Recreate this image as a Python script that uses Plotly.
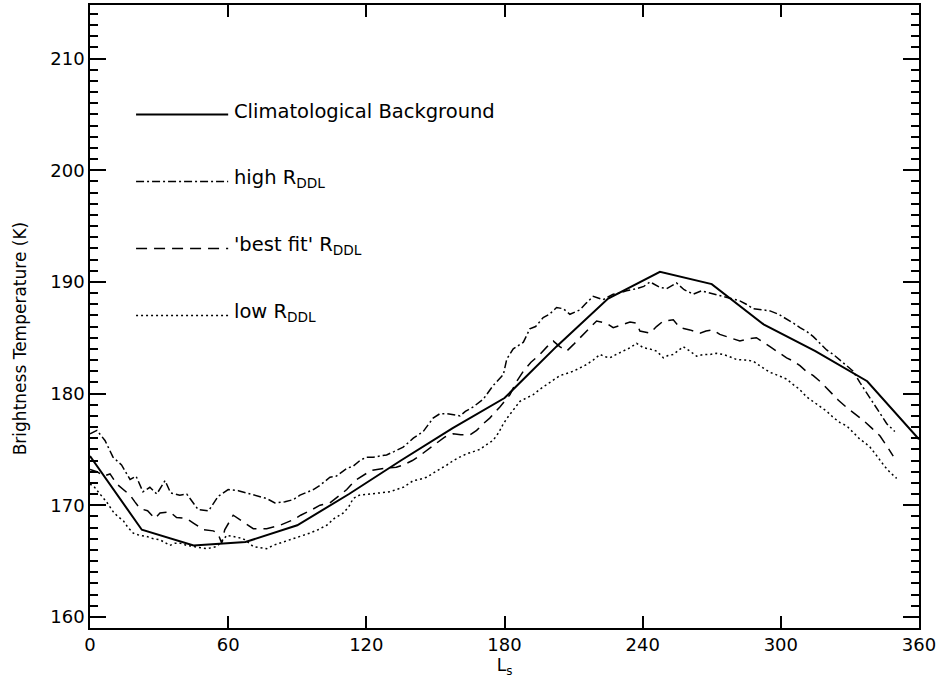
import plotly.graph_objects as go

# ---------------- data ----------------
clim_ls = [0, 22.5, 45, 67.5, 90, 112.5, 135, 157.5, 180, 202.5, 225, 247.5, 270, 292.5, 315, 337.5, 360]
clim_tb = [174.4, 167.8, 166.4, 166.7, 168.2, 171.0, 174.0, 176.9, 179.6, 184.2, 188.5, 190.9, 189.8, 186.2, 183.8, 181.1, 175.9]

high_ls = [0, 3, 6.5, 10, 13.7, 17.4, 20, 23, 26, 29, 32.6, 35, 39, 42, 47, 51.5, 55.7, 60, 64.4, 69.5,
           73, 76.7, 80.3, 84.7, 88.3, 91.2, 97, 100, 104.2, 107, 111.5, 114.3, 117.2, 120, 123, 126, 128.8,
           132, 136, 140.4, 144.7, 149, 152, 154.9, 157.5, 160.7, 163, 166.4, 170.8, 175, 179.5, 181, 183.8,
           188.2, 191, 193.5, 196.8, 199.5, 202.6, 205.5, 208.4, 210.5, 212.8, 215.5, 218.5, 222.8, 227.2,
           230, 233, 237.4, 240.5, 243.2, 247.5, 250.4, 254.7, 258, 262, 265.5, 269.2, 272.5, 276.5, 282.2,
           285, 288, 292, 295.3, 299, 302.5, 305.5, 308.3, 311, 314.1, 317, 319.9, 322.8, 325.7, 328.5,
           331.4, 334.3, 337.2, 340, 343, 346, 349.5]
high_tb = [176.4, 176.7, 175.8, 174.3, 173.6, 172.3, 172.6, 171.2, 171.6, 171.0, 172.2, 171.1, 170.9, 171.0,
           169.6, 169.5, 170.8, 171.4, 171.3, 171.0, 170.8, 170.6, 170.2, 170.3, 170.5, 170.9, 171.4, 171.8,
           172.5, 172.6, 173.3, 173.5, 174.0, 174.3, 174.3, 174.4, 174.5, 174.8, 175.2, 176.0, 176.6, 177.8,
           178.2, 178.2, 178.1, 178.0, 178.4, 178.8, 179.5, 180.7, 181.7, 183.1, 184.0, 184.6, 185.8, 186.0,
           186.8, 187.1, 187.7, 187.6, 187.1, 187.3, 187.5, 188.1, 188.7, 188.4, 188.9, 189.0, 189.2, 189.4,
           189.6, 190.0, 189.5, 189.4, 189.9, 189.3, 188.9, 189.2, 189.0, 188.8, 188.6, 188.3, 188.0, 187.6,
           187.5, 187.4, 187.1, 186.7, 186.3, 185.9, 185.6, 185.1, 184.5, 183.9, 183.5, 183.0, 182.5, 182.0,
           181.0, 180.1, 179.2, 178.3, 177.3, 176.6]

best_ls = [0, 3, 6, 8.7, 11.6, 14.5, 17.4, 19.5, 21.7, 25, 28.2, 30.4, 34.7, 37.6, 42, 44.9, 49.2, 53.5, 55.5,
           57.2, 58.5, 62.2, 66.6, 70.9, 76.7, 82.5, 88.3, 91.5, 95.5, 99.9, 104.2, 108, 111.5, 115, 118.7,
           122, 126, 130.3, 133, 136, 140, 143.3, 147, 150.5, 154, 157.7, 161, 165, 167.9, 170.8, 173.6, 178,
           182.4, 185, 188.2, 191.5, 195.4, 198.5, 201.2, 204, 207, 210, 212.8, 216, 220, 224.3, 227.2, 231.5,
           234.5, 237.4, 238.8, 243.2, 246, 249, 253.3, 256.2, 260.5, 264.9, 267.5, 270.6, 273.5, 276.5, 282.2,
           286, 289.4, 295.3, 299, 302.5, 305.5, 308.3, 311, 314.1, 317.5, 321.3, 325, 328.6, 332, 335.8,
           339.5, 343.1, 346, 348.8]
best_tb = [173.2, 173.0, 172.6, 172.8, 171.9, 171.4, 170.9, 170.3, 169.7, 169.5, 168.8, 169.3, 169.4, 168.9,
           168.8, 168.4, 167.8, 167.7, 167.5, 166.6, 167.8, 169.1, 168.5, 167.9, 167.9, 168.2, 168.7, 169.1,
           169.5, 170.0, 170.2, 170.8, 171.4, 172.2, 172.7, 173.1, 173.25, 173.35, 173.4, 173.6, 174.0, 174.45,
           175.0, 175.6, 176.1, 176.4, 176.3, 176.3, 176.7, 177.3, 177.8, 178.8, 179.9, 181.0, 182.0, 182.8,
           183.5, 184.2, 184.7, 184.2, 183.8, 184.4, 185.0, 185.7, 186.5, 186.3, 185.9, 186.2, 186.4, 186.3,
           185.6, 185.4, 186.0, 186.5, 186.6, 185.9, 185.7, 185.4, 185.6, 185.7, 185.3, 185.1, 184.7, 184.9,
           185.0, 184.2, 183.7, 183.2, 182.9, 182.5, 182.0, 181.6, 181.0, 180.2, 179.4, 178.75, 178.2, 177.6,
           176.9, 176.2, 175.3, 174.4]

low_ls = [0, 2, 4.3, 7.2, 10.1, 12, 14.5, 16.5, 18.8, 21.5, 24.6, 27.5, 30.4, 34.7, 37, 39.1, 42, 44.9, 47.8,
          50.7, 53, 55, 57.5, 59.4, 62.2, 66.5, 68.5, 70.9, 73.5, 76.7, 79.5, 82.5, 85.5, 88.3, 92, 95.5, 99,
          102.8, 106, 110, 112.5, 114.3, 117, 121.6, 126, 130.3, 133, 136, 140.4, 143, 146.2, 149, 152, 155,
          157.8, 160.5, 163.6, 166.5, 169.3, 172, 175, 177.5, 179.5, 181.5, 183.8, 186.7, 189.5, 192.5, 195.5,
          198.3, 201, 204, 207, 209.9, 212.8, 215.7, 218.5, 221.5, 223.5, 225.8, 228.5, 231.6, 234.5, 237.4,
          240.3, 243, 246.1, 249, 251, 253.3, 255.5, 257.6, 260.5, 263.4, 266.5, 269.2, 272, 275, 277.8, 280.8,
          284.5, 288, 291.5, 295.3, 299, 302.5, 305.4, 308, 311.2, 314, 317, 320, 322.8, 325.7, 328.6, 331.5,
          334.4, 336.5, 338.7, 341, 343, 345, 347.4, 350.3]
low_tb = [171.9, 171.6, 171.0, 170.3, 169.4, 169.0, 168.6, 168.0, 167.5, 167.3, 167.2, 167.0, 166.9, 166.4,
          166.6, 166.6, 166.4, 166.3, 166.2, 166.1, 166.2, 166.3, 166.8, 167.3, 167.2, 167.0, 166.7, 166.3,
          166.2, 166.1, 166.4, 166.6, 166.8, 167.0, 167.2, 167.5, 167.8, 168.2, 168.8, 169.3, 169.9, 170.6,
          170.9, 171.0, 171.1, 171.2, 171.4, 171.6, 172.2, 172.3, 172.5, 172.9, 173.25, 173.6, 174.0, 174.3,
          174.6, 174.8, 175.0, 175.4, 175.8, 176.5, 177.3, 177.9, 178.5, 179.3, 179.6, 179.9, 180.4, 180.8,
          181.2, 181.6, 181.8, 182.0, 182.3, 182.6, 183.0, 183.5, 183.3, 183.2, 183.5, 183.8, 184.1, 184.5,
          184.1, 184.0, 183.8, 183.2, 183.4, 183.5, 183.9, 184.2, 183.8, 183.35, 183.5, 183.5, 183.6, 183.5,
          183.3, 183.05, 183.0, 182.9, 182.4, 181.9, 181.6, 181.3, 180.8, 180.4, 179.7, 179.3, 178.9, 178.4,
          177.85, 177.4, 177.1, 176.5, 175.9, 175.6, 175.2, 174.6, 174.0, 173.5, 172.95, 172.4]

legend_labels = ["Climatological Background", "high R<sub>DDL</sub>",
                 "'best fit' R<sub>DDL</sub>", "low R<sub>DDL</sub>"]
legend_y = [205, 199, 193, 187]

Y_RANGE = [159, 214.8]
X_RANGE = [0, 360]

# ---------------- styles ----------------
FONT = "DejaVu Sans"
styles = [
    dict(color="black", width=2, dash="solid"),
    dict(color="black", width=1.5, dash="8px,3px,2px,3px"),
    dict(color="black", width=1.5, dash="11px,7px"),
    dict(color="black", width=1.5, dash="2px,3px"),
]

fig = go.Figure()
series = [(clim_ls, clim_tb), (high_ls, high_tb), (best_ls, best_tb), (low_ls, low_tb)]
for (xs, ys), st, name in zip(series, styles, legend_labels):
    fig.add_trace(go.Scatter(x=xs, y=ys, mode="lines", line=st, name=name,
                             showlegend=False, hoverinfo="skip"))

shapes = []
annotations = []
for st, name, ly in zip(styles, legend_labels, legend_y):
    shapes.append(dict(type="line", xref="x", yref="y", x0=20, x1=60, y0=ly, y1=ly,
                       line=st))
    annotations.append(dict(x=61.5, y=ly + 0.25, xref="x", yref="y", text=name,
                            showarrow=False, xanchor="left", yanchor="middle",
                            font=dict(family=FONT, size=19.5, color="black")))

annotations.append(dict(x=-0.084, y=0.464, xref="paper", yref="paper",
                        text="Brightness Temperature (K)", textangle=-90,
                        showarrow=False, xanchor="center", yanchor="middle",
                        font=dict(family=FONT, size=17, color="black")))

fig.update_layout(
    width=945, height=692,
    margin=dict(l=90, r=26, t=3, b=64),
    paper_bgcolor="white", plot_bgcolor="white",
    font=dict(family=FONT, size=18, color="black"),
    shapes=shapes, annotations=annotations,
)
fig.update_xaxes(
    range=X_RANGE, tick0=0, dtick=60,
    ticks="inside", ticklen=12, tickwidth=1.5, tickcolor="#000000",
    showline=True, linecolor="black", linewidth=1.5, mirror="allticks",
    showgrid=False, zeroline=False,
    title=dict(text="L<sub>s</sub>", font=dict(family=FONT, size=17), standoff=0),
    tickfont=dict(family=FONT, size=18),
)
fig.update_yaxes(
    range=Y_RANGE, tick0=160, dtick=10,
    ticks="inside", ticklen=16, tickwidth=1.5, tickcolor="#000000",
    minor=dict(ticks="inside", dtick=1, ticklen=8, tickwidth=1.5, tickcolor="#000000"),
    showline=True, linecolor="black", linewidth=1.5, mirror="allticks",
    showgrid=False, zeroline=False,
    tickfont=dict(family=FONT, size=18),
)

fig.write_html("out.html")
